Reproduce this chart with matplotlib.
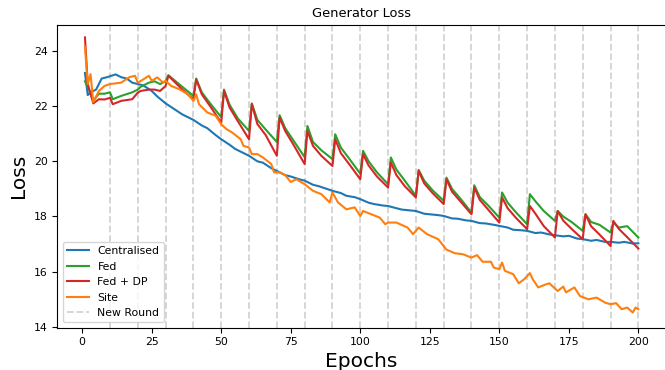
import matplotlib
matplotlib.use('Agg')
import matplotlib.pyplot as plt

# Centralised
cen_ep = [1, 2, 3, 5, 7, 9, 12, 14, 16, 18, 20, 22, 25, 27, 30, 33, 36, 40, 43, 45,
          48, 50, 53, 55, 58, 60, 63, 65, 68, 70, 73, 75, 78, 80, 83, 85, 88, 90, 93, 95,
          98, 100, 103, 105, 108, 110, 113, 115, 118, 120, 123, 125, 128, 130, 133, 135,
          138, 140, 143, 145, 148, 150, 153, 155, 158, 160, 163, 165, 168, 170, 173, 175,
          178, 180, 183, 185, 188, 190, 193, 195, 198, 200]
cen_loss = [23.2, 22.4, 22.5, 22.6, 23.0, 23.05, 23.15, 23.05, 23.0, 22.85, 22.8, 22.75,
            22.55, 22.35, 22.1, 21.9, 21.7, 21.5, 21.3, 21.2, 20.95, 20.8, 20.6, 20.45,
            20.3, 20.2, 20.0, 19.95, 19.75, 19.65, 19.5, 19.45, 19.35, 19.3, 19.15, 19.1,
            19.0, 18.93, 18.85, 18.75, 18.7, 18.63, 18.5, 18.45, 18.4, 18.38, 18.3, 18.25,
            18.22, 18.2, 18.1, 18.08, 18.05, 18.02, 17.93, 17.92, 17.86, 17.84, 17.76,
            17.75, 17.7, 17.66, 17.6, 17.52, 17.5, 17.48, 17.4, 17.42, 17.35, 17.32,
            17.28, 17.3, 17.2, 17.18, 17.12, 17.15, 17.08, 17.08, 17.05, 17.08, 17.02, 17.03]

# Fed and Fed + DP (same epochs)
fed_ep = [1, 2, 4, 6, 8, 10, 11, 14, 18, 20, 21, 24, 26, 28, 30,
          31, 33, 36, 40, 41, 43, 46, 50, 51, 53, 56, 60, 61, 63, 66, 70,
          71, 73, 76, 80, 81, 83, 86, 90, 91, 93, 96, 100, 101, 103, 106, 110,
          111, 113, 116, 120, 121, 123, 126, 130, 131, 133, 136, 140, 141, 143, 146, 150,
          151, 153, 156, 160, 161, 163, 166, 170, 171, 173, 176, 180, 181, 183, 186, 190,
          191, 193, 196, 200]
fed_loss = [22.9, 22.7, 22.2, 22.45, 22.45, 22.5, 22.25, 22.37, 22.5, 22.6, 22.7, 22.85, 22.9, 22.8, 22.9,
            23.12, 22.95, 22.7, 22.37, 23.0, 22.5, 22.1, 21.6, 22.6, 22.05, 21.55, 21.1,
            22.1, 21.5, 21.15, 20.7, 21.67, 21.2, 20.75, 20.15, 21.28, 20.7, 20.4, 20.08,
            20.98, 20.5, 20.1, 19.55, 20.38, 20.0, 19.6, 19.17, 20.14, 19.7, 19.3, 18.75,
            19.69, 19.3, 18.95, 18.57, 19.41, 19.0, 18.65, 18.14, 19.13, 18.7, 18.4, 17.96,
            18.87, 18.5, 18.15, 17.72, 18.81, 18.55, 18.2, 17.84, 18.2, 18.0, 17.8, 17.48,
            18.08, 17.8, 17.7, 17.42, 17.78, 17.6, 17.65, 17.24]
dp_loss = [24.49, 22.8, 22.1, 22.25, 22.24, 22.3, 22.07, 22.19, 22.25, 22.49, 22.55, 22.6, 22.6, 22.55, 22.73,
           23.1, 22.9, 22.6, 22.25, 22.97, 22.43, 22.0, 21.4, 22.55, 21.95, 21.45, 20.8,
           22.07, 21.35, 20.95, 20.2, 21.59, 21.1, 20.6, 19.9, 21.1, 20.56, 20.2, 19.83,
           20.8, 20.3, 19.9, 19.35, 20.26, 19.85, 19.45, 19.05, 19.96, 19.5, 19.1, 18.69,
           19.65, 19.2, 18.85, 18.45, 19.35, 18.9, 18.55, 18.08, 19.05, 18.6, 18.25, 17.78,
           18.69, 18.3, 17.95, 17.54, 18.38, 18.1, 17.65, 17.24, 18.2, 17.85, 17.55, 17.18,
           18.08, 17.65, 17.35, 16.93, 17.84, 17.55, 17.25, 16.84]

# Site
site_ep = [1, 2, 3, 4, 6, 8, 10, 14, 17, 19, 20, 22, 24, 25, 27, 29, 30, 32, 35, 38,
           40, 41, 42, 45, 48, 50, 52, 54, 57, 58, 60, 61, 63, 65, 68, 69, 71, 73, 75, 77,
           80, 83, 86, 89, 90, 92, 95, 98, 100, 101, 104, 107, 109, 110, 113, 117, 119, 121,
           124, 128, 131, 134, 137, 140, 142, 144, 147, 148, 150, 151, 152, 155, 157, 159,
           161, 162, 164, 167, 168, 171, 173, 174, 177, 179, 182, 185, 188, 190, 192, 194,
           196, 198, 199, 200]
site_loss = [24.15, 22.8, 23.16, 22.15, 22.55, 22.73, 22.8, 22.85, 23.05, 23.1, 22.85, 22.97,
             23.1, 22.92, 23.04, 22.86, 22.92, 22.73, 22.61, 22.43, 22.19, 22.43, 22.07, 21.77,
             21.65, 21.34, 21.16, 21.04, 20.8, 20.56, 20.5, 20.26, 20.26, 20.14, 19.9, 19.6,
             19.6, 19.5, 19.25, 19.35, 19.17, 18.93, 18.81, 18.51, 18.87, 18.51, 18.26, 18.33,
             18.02, 18.2, 18.08, 17.96, 17.72, 17.78, 17.78, 17.6, 17.36, 17.6, 17.36, 17.18,
             16.8, 16.67, 16.63, 16.51, 16.6, 16.36, 16.36, 16.15, 16.09, 16.33, 16.03, 15.91,
             15.58, 15.73, 15.95, 15.73, 15.43, 15.55, 15.58, 15.3, 15.46, 15.25, 15.43, 15.12,
             15.0, 15.06, 14.88, 14.82, 14.86, 14.64, 14.7, 14.52, 14.7, 14.64]

rounds = [10, 20, 30, 40, 50, 60, 70, 80, 90, 100, 110, 120, 130, 140, 150, 160, 170, 180, 190, 200]

fig = plt.figure(figsize=(6.65, 3.7), dpi=100)
ax = fig.add_axes([57.3/665, 42.3/370, 608.7/665, 302.7/370])

ax.plot(cen_ep, cen_loss, color='tab:blue', lw=1.5, label='Centralised')
ax.plot(fed_ep, fed_loss, color='tab:green', lw=1.5, label='Fed')
ax.plot(fed_ep, dp_loss, color='tab:red', lw=1.5, label='Fed + DP')
ax.plot(site_ep, site_loss, color='tab:orange', lw=1.5, label='Site')
for i, r in enumerate(rounds):
    ax.axvline(r, color='lightgray', ls='--', lw=1.3, zorder=1,
               label='New Round' if i == 0 else None)

ax.set_xlim(-8.95, 209.95)
ax.set_ylim(13.97, 24.94)
ax.set_xticks([0, 25, 50, 75, 100, 125, 150, 175, 200])
ax.set_yticks([14, 16, 18, 20, 22, 24])
ax.tick_params(labelsize=7.8)
ax.set_title('Generator Loss', fontsize=9.4)
ax.set_xlabel('Epochs', fontsize=14.5, labelpad=3)
ax.set_ylabel('Loss', fontsize=14.5)
ax.legend(loc='lower left', fontsize=7.8)

fig.savefig('out.png', dpi=100)
